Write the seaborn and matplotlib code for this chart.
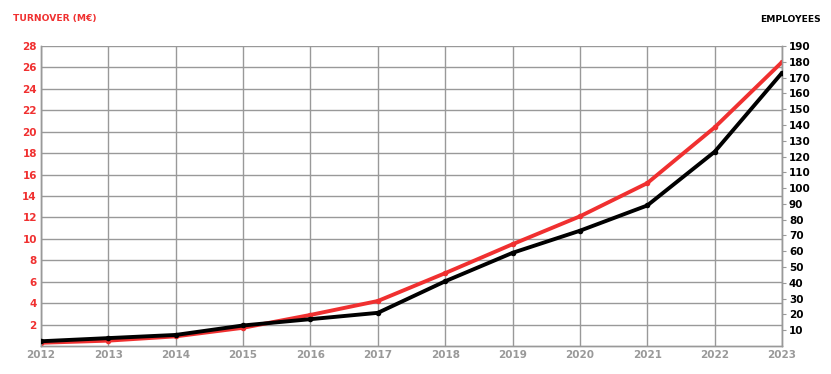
import matplotlib
matplotlib.use("Agg")
import matplotlib.pyplot as plt
import seaborn as sns
import pandas as pd

years = [2012, 2013, 2014, 2015, 2016, 2017, 2018, 2019, 2020, 2021, 2022, 2023]
turnover = [0.3, 0.5, 0.9, 1.7, 2.9, 4.2, 6.8, 9.5, 12.1, 15.2, 20.4, 26.5]
employees = [3, 5, 7, 13, 17, 21, 41, 59, 73, 89, 123, 173]
left_ticks = list(range(2, 29, 2))
right_ticks = list(range(10, 191, 10))

df = pd.DataFrame({"year": years, "turnover": turnover, "employees": employees})

sns.set_theme(style="white")
plt.rcParams['font.family'] = ['DejaVu Sans']

RED = "#f03030"
GRID = "#999999"

fig = plt.figure(figsize=(8.31, 3.74), dpi=100)
ax = fig.add_axes([41/831, 1-346/374, (782-41)/831, 300/374])
ax2 = ax.twinx()

sns.lineplot(data=df, x="year", y="turnover", ax=ax, color=RED, linewidth=2.8,
             marker="o", markersize=4, markeredgewidth=0, zorder=3)
sns.lineplot(data=df, x="year", y="employees", ax=ax2, color="black", linewidth=2.8,
             marker="o", markersize=4, markeredgewidth=0, zorder=3)

ax.set_xlim(2012, 2023)
ax.set_ylim(0, 28)
ax2.set_ylim(0, 190)
ax.set_xticks(years)
ax.set_xticklabels([str(y) for y in years])
ax.set_yticks(left_ticks)
ax2.set_yticks(right_ticks)
ax.set_xlabel("")
ax.set_ylabel("")
ax2.set_ylabel("")

ax.grid(True, color=GRID, linewidth=1.0)
ax.set_axisbelow(True)
ax2.grid(False)

ax.tick_params(axis="y", colors=RED, labelsize=7.5, length=0, pad=3)
for t in ax.get_yticklabels():
    t.set_fontweight("bold")
ax.tick_params(axis="x", colors="#999999", labelsize=7.5, length=0, pad=3)
for t in ax.get_xticklabels():
    t.set_fontweight("bold")
ax2.tick_params(axis="y", colors="black", labelsize=7.5, length=3, width=0.8, pad=2)
ax2.tick_params(axis="y", color=GRID)
for t in ax2.get_yticklabels():
    t.set_fontweight("bold")
    t.set_color("black")

for a in (ax, ax2):
    for s in a.spines.values():
        s.set_color(GRID)
        s.set_linewidth(1.0)
    a.spines["top"].set_visible(False)

fig.text(13/831, 1-19/374, "TURNOVER (M€)", color=RED, fontsize=6.6, fontweight="bold",
         ha="left", va="center")
fig.text(821/831, 1-20/374, "EMPLOYEES", color="black", fontsize=6.6, fontweight="bold",
         ha="right", va="center")

fig.savefig("out.png", dpi=100)
